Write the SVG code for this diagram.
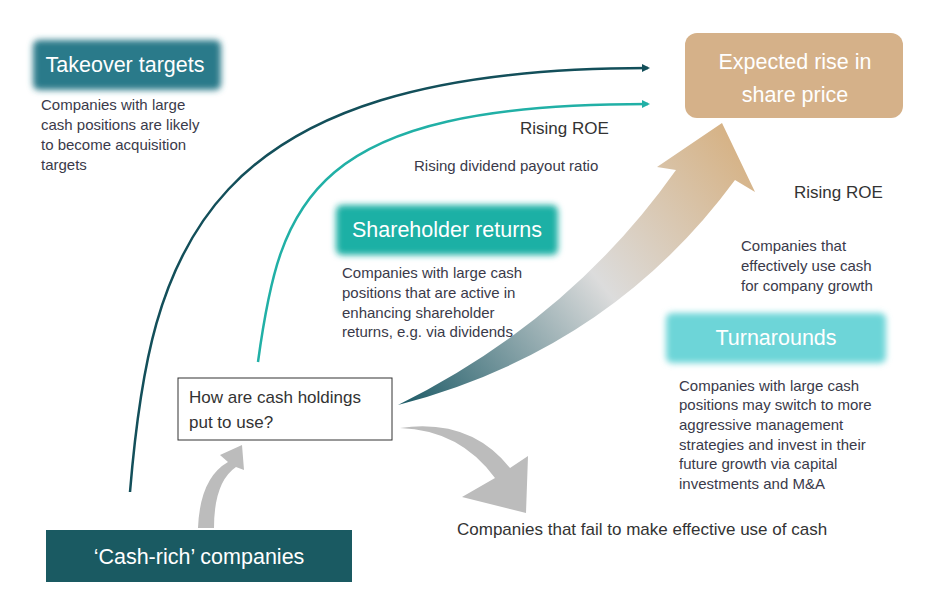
<svg xmlns="http://www.w3.org/2000/svg" width="928" height="599" viewBox="0 0 928 599">
<defs>
<style>
.b{font-family:"Liberation Sans",Arial,sans-serif;font-size:15px;fill:#3a3a4a}
.h{font-family:"Liberation Sans",Arial,sans-serif;font-size:21.5px;fill:#fff}
.l{font-family:"Liberation Sans",Arial,sans-serif;font-size:17px;fill:#333}
</style>
<filter id="glow" x="-20%" y="-40%" width="140%" height="180%"><feGaussianBlur stdDeviation="3"/></filter>
<linearGradient id="g" x1="400" y1="405" x2="730" y2="140" gradientUnits="userSpaceOnUse">
<stop offset="0" stop-color="#1c5a66"/><stop offset="0.55" stop-color="#dcdcdc"/><stop offset="1" stop-color="#d6b387"/></linearGradient>
<marker id="m1" markerWidth="8" markerHeight="8" refX="6" refY="4" orient="auto" markerUnits="userSpaceOnUse"><path d="M0,0 L8,4 L0,8z" fill="#134f5a"/></marker>
<marker id="m2" markerWidth="8" markerHeight="8" refX="6" refY="4" orient="auto" markerUnits="userSpaceOnUse"><path d="M0,0 L8,4 L0,8z" fill="#21b0a6"/></marker>
</defs>
<rect width="928" height="599" fill="#fff"/>
<g id="connectors">
<path d="M130,492 C150,250 200,68 648,68" fill="none" stroke="#134f5a" stroke-width="2.5" marker-end="url(#m1)"/>
<path d="M258,362 C280,200 310,104 648,104" fill="none" stroke="#21b0a6" stroke-width="2.5" marker-end="url(#m2)"/>
<path d="M398,405 Q610,350 735,180 L755,192 L722,123 L657,167 L676,170 Q570,320 398,405z" fill="url(#g)"/>
<path d="M400,428 Q460,430 495,478 L462,497 L526,513 L528,456 L510,468 Q470,418 400,428z" fill="#bcbcbc"/>
<path d="M198,528 Q200,478 228,462 L220,455 L242,445 L244,470 L236,467 Q214,482 214,528z" fill="#bcbcbc"/>
</g>
<g id="takeover">
<rect x="33" y="40" width="188" height="50" rx="6" fill="#2a7a8a" filter="url(#glow)"/>
<text x="125" y="72" class="h" text-anchor="middle">Takeover targets</text>
<text class="b"><tspan x="41" y="110">Companies with large</tspan><tspan x="41" y="130">cash positions are likely</tspan><tspan x="41" y="150">to become acquisition</tspan><tspan x="41" y="170">targets</tspan></text>
</g>
<g id="shareholder">
<rect x="336" y="205" width="222" height="50" rx="6" fill="#1fb0a5" filter="url(#glow)"/>
<text x="447" y="237" class="h" text-anchor="middle">Shareholder returns</text>
<text class="b"><tspan x="342" y="278">Companies with large cash</tspan><tspan x="342" y="298">positions that are active in</tspan><tspan x="342" y="318">enhancing shareholder</tspan><tspan x="342" y="337">returns, e.g. via dividends</tspan></text>
</g>
<g id="expected">
<rect x="685" y="33" width="218" height="85" rx="12" fill="#d5b189"/>
<text class="h" font-size="26" text-anchor="middle"><tspan x="795" y="69">Expected rise in</tspan><tspan x="795" y="102">share price</tspan></text>
</g>
<text x="520" y="134" class="l">Rising ROE</text>
<text x="414" y="171" class="b">Rising dividend payout ratio</text>
<text x="794" y="198" class="l">Rising ROE</text>
<text class="b"><tspan x="741" y="251">Companies that</tspan><tspan x="741" y="271">effectively use cash</tspan><tspan x="741" y="291">for company growth</tspan></text>
<g id="turnarounds">
<rect x="666" y="313" width="220" height="50" rx="6" fill="#6dd5d8" filter="url(#glow)"/>
<text x="776" y="345" class="h" text-anchor="middle">Turnarounds</text>
<text class="b"><tspan x="679" y="391">Companies with large cash</tspan><tspan x="679" y="410">positions may switch to more</tspan><tspan x="679" y="430">aggressive management</tspan><tspan x="679" y="450">strategies and invest in their</tspan><tspan x="679" y="469">future growth via capital</tspan><tspan x="679" y="489">investments and M&amp;A</tspan></text>
</g>
<g id="question">
<rect x="178" y="378" width="214" height="62" fill="#fff" stroke="#333" stroke-width="1"/>
<text class="l" font-size="18.5"><tspan x="189" y="403">How are cash holdings</tspan><tspan x="189" y="428">put to use?</tspan></text>
</g>
<g id="fail"><text x="457" y="535" class="l" font-size="19">Companies that fail to make effective use of cash</text></g>
<g id="cashrich">
<rect x="46" y="530" width="306" height="52" fill="#1a5a62"/>
<text x="199" y="564" class="h" font-size="24" text-anchor="middle">‘Cash-rich’ companies</text>
</g>
</svg>
